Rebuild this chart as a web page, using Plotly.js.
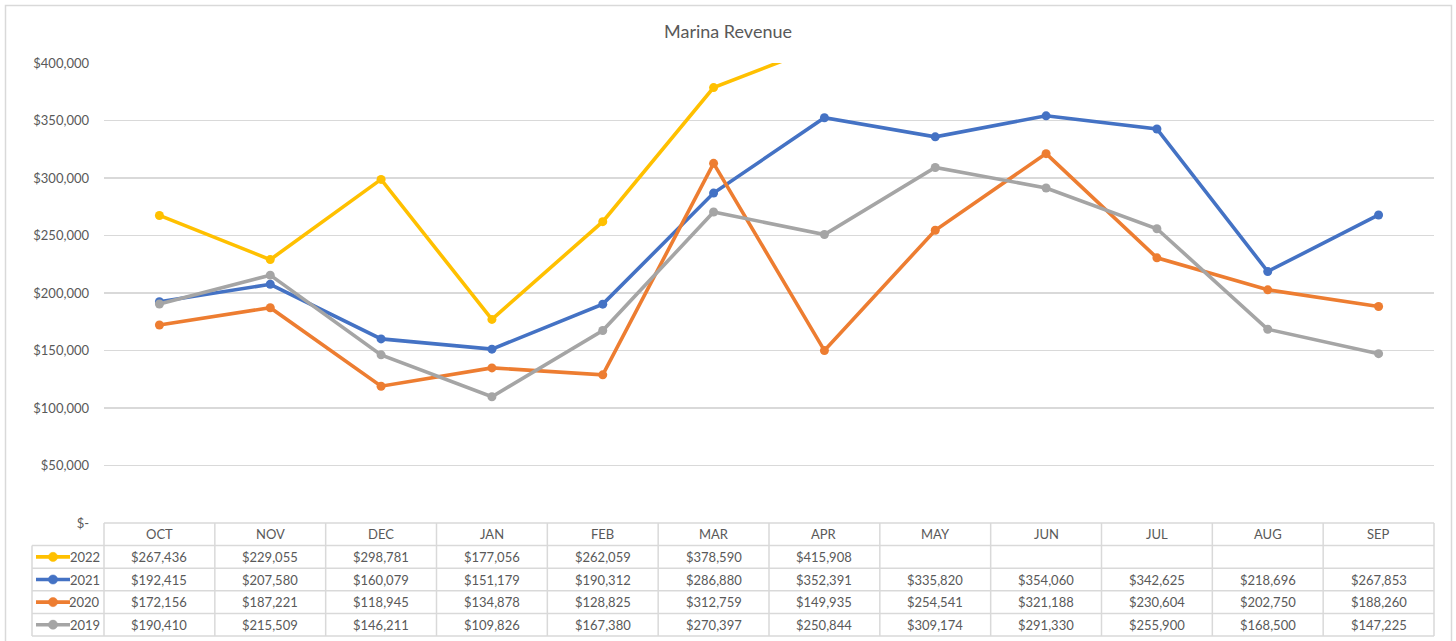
<!DOCTYPE html>
<html><head><meta charset="utf-8">
<script src="https://cdn.plot.ly/plotly-3.0.1.min.js"></script>
<style>html,body{margin:0;padding:0;background:#fff}#chart{width:1456px;height:641px}</style>
</head><body><div id="chart"></div>
<script>
const months = ['OCT','NOV','DEC','JAN','FEB','MAR','APR','MAY','JUN','JUL','AUG','SEP'];
const years = ['2022','2021','2020','2019'];
const rev2022 = [267436, 229055, 298781, 177056, 262059, 378590, 415908, null, null, null, null, null];
const rev2021 = [192415, 207580, 160079, 151179, 190312, 286880, 352391, 335820, 354060, 342625, 218696, 267853];
const rev2020 = [172156, 187221, 118945, 134878, 128825, 312759, 149935, 254541, 321188, 230604, 202750, 188260];
const rev2019 = [190410, 215509, 146211, 109826, 167380, 270397, 250844, 309174, 291330, 255900, 168500, 147225];
const yTickVals = [0, 50000, 100000, 150000, 200000, 250000, 300000, 350000, 400000];
const yTickText = ['$-', '$50,000', '$100,000', '$150,000', '$200,000', '$250,000', '$300,000', '$350,000', '$400,000'];
const seriesColors = ['#FFC000', '#4472C4', '#ED7D31', '#A5A5A5'];
const allSeries = [rev2022, rev2021, rev2020, rev2019];

const FIG_W = 1456, FIG_H = 641;
const ML = 104, MR = 22, MT = 63, MB = 118;
const PW = FIG_W - ML - MR, PH = FIG_H - MT - MB;
const px2x = p => (p - ML) / PW;           // pixel x -> paper x
const px2y = p => (FIG_H - MB - p) / PH;   // pixel y -> paper y
const TXT = '#595959', GRID = '#d9d9d9', FONT = 'Lato, "Open Sans", sans-serif';

const traces = years.map((yr, k) => ({
  type: 'scatter', mode: 'lines+markers', name: yr,
  x: months, y: allSeries[k],
  line: {color: seriesColors[k], width: 3.6},
  marker: {color: seriesColors[k], size: 9},
  connectgaps: false, cliponaxis: true, hoverinfo: 'x+y+name'
}));

const shapes = [], annotations = [];
// outer chart border
shapes.push({type: 'rect', xref: 'paper', yref: 'paper',
  x0: px2x(5.5), x1: px2x(1451.5), y0: px2y(5.5), y1: px2y(650),
  line: {color: GRID, width: 1.5}, fillcolor: 'rgba(0,0,0,0)', layer: 'below'});

// data table geometry
const ROW = 22.6;            // px per table row
const tableTop = FIG_H - MB; // px
const legendLeft = 32;       // px
const rowLine = {color: GRID, width: 1.5};
for (let r = 0; r <= years.length + 1; r++) {
  const yp = tableTop + r * ROW;
  shapes.push({type: 'line', xref: 'paper', yref: 'paper',
    x0: r === 0 ? 0 : px2x(legendLeft), x1: 1, y0: px2y(yp), y1: px2y(yp), line: rowLine});
}
for (let c = 0; c <= months.length; c++) {
  shapes.push({type: 'line', xref: 'paper', yref: 'paper',
    x0: c / months.length, x1: c / months.length,
    y0: px2y(tableTop), y1: px2y(tableTop + (years.length + 1) * ROW), line: rowLine});
}
shapes.push({type: 'line', xref: 'paper', yref: 'paper',
  x0: px2x(legendLeft), x1: px2x(legendLeft),
  y0: px2y(tableTop + ROW), y1: px2y(tableTop + (years.length + 1) * ROW), line: rowLine});

const tfont = {family: FONT, size: 13, color: TXT};
months.forEach(m => annotations.push({xref: 'x', yref: 'paper', x: m, y: px2y(tableTop + ROW / 2),
  text: m, showarrow: false, font: tfont, xanchor: 'center', yanchor: 'middle'}));
years.forEach((yr, k) => {
  const cy = tableTop + (k + 1.5) * ROW;
  allSeries[k].forEach((v, i) => {
    if (v === null) return;
    annotations.push({xref: 'x', yref: 'paper', x: months[i], y: px2y(cy),
      text: '$' + v.toLocaleString('en-US'), showarrow: false, font: tfont,
      xanchor: 'center', yanchor: 'middle'});
  });
  annotations.push({xref: 'paper', yref: 'paper', x: px2x(102), y: px2y(cy),
    text: yr, showarrow: false, font: tfont, xanchor: 'right', yanchor: 'middle'});
  shapes.push({type: 'line', xref: 'paper', yref: 'paper',
    x0: px2x(36), x1: px2x(70), y0: px2y(cy), y1: px2y(cy),
    line: {color: seriesColors[k], width: 3.6}});
  const rr = 4.6;
  shapes.push({type: 'circle', xref: 'paper', yref: 'paper',
    x0: px2x(53 - rr), x1: px2x(53 + rr), y0: px2y(cy - rr), y1: px2y(cy + rr),
    fillcolor: seriesColors[k], line: {color: seriesColors[k], width: 0.5}});
});

const layout = {
  width: FIG_W, height: FIG_H,
  margin: {l: ML, r: MR, t: MT, b: MB, pad: 0},
  paper_bgcolor: '#ffffff', plot_bgcolor: '#ffffff',
  font: {family: FONT, size: 13, color: TXT},
  title: {text: 'Marina Revenue', font: {family: FONT, size: 18, color: TXT},
    x: 0.5, xanchor: 'center', y: 1 - 32 / FIG_H, yref: 'container', yanchor: 'middle'},
  showlegend: false,
  xaxis: {type: 'category', categoryorder: 'array', categoryarray: months,
    range: [-0.5, months.length - 0.5], showticklabels: false, showgrid: false,
    zeroline: false, showline: false, ticks: '', fixedrange: true},
  yaxis: {range: [0, 400000], tickvals: yTickVals, ticktext: yTickText,
    showgrid: true, gridcolor: GRID, gridwidth: 1.5, zeroline: false, showline: false,
    ticks: '', ticklabelstandoff: 14, tickfont: {family: FONT, size: 13, color: TXT},
    fixedrange: true},
  shapes: shapes, annotations: annotations
};

Plotly.newPlot('chart', traces, layout, {displayModeBar: false, staticPlot: true});
</script>
</body></html>
